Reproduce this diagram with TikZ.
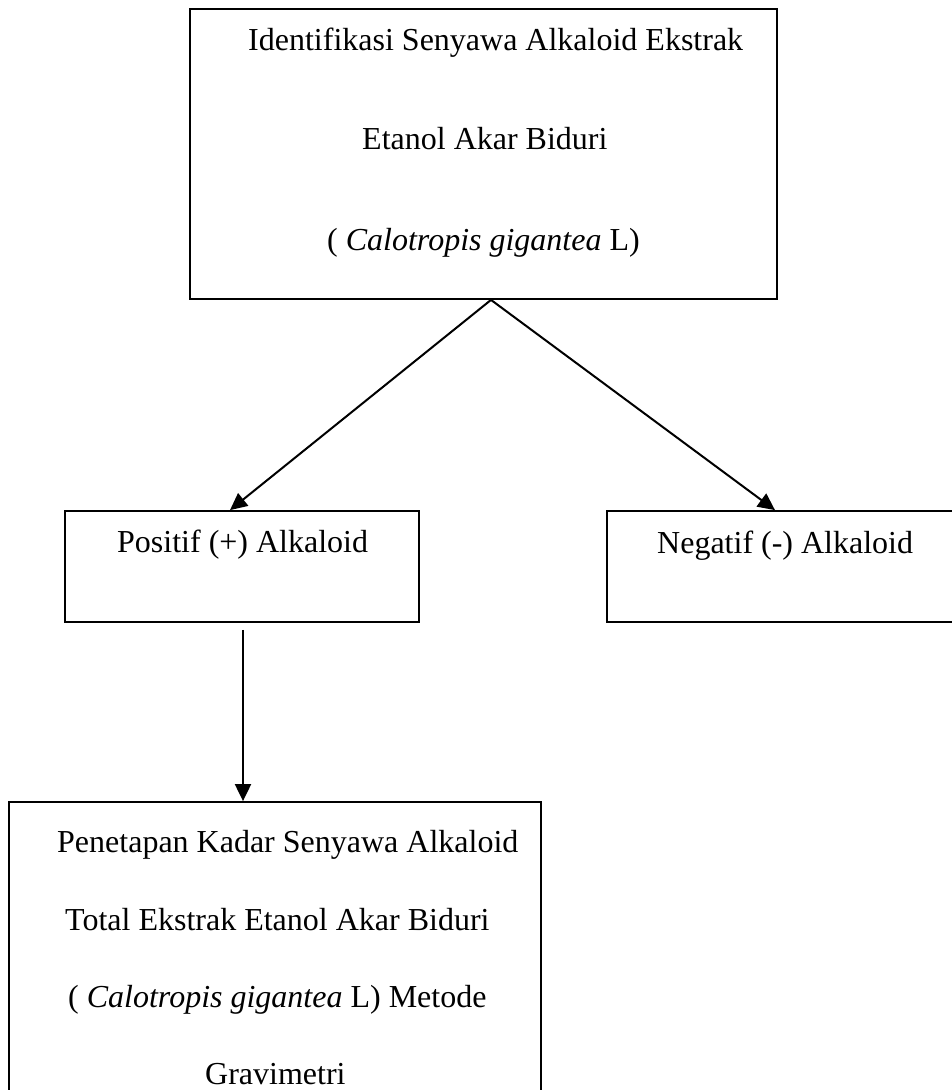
\documentclass[tikz,border=0pt]{standalone}
\usepackage{fontspec}
\setmainfont{Liberation Serif}
\usetikzlibrary{arrows.meta,calc}
\begin{document}
\begin{tikzpicture}[x=1pt,y=-1pt,
  box/.style={draw,line width=1.8pt,rectangle,inner sep=0pt},
  txt/.style={anchor=base west,inner sep=0pt,font=\fontsize{32}{38}\selectfont},
  flow/.style={line width=2pt,-{Triangle[length=17pt,width=16pt]}}]
  \useasboundingbox (0,0) rectangle (952,1090);

  % boxes
  \node[box,minimum width=587pt,minimum height=290pt] (top) at (483.5,154) {};
  \node[box,minimum width=354pt,minimum height=111pt] (pos) at (242,566.5) {};
  \node[box,minimum width=353pt,minimum height=111pt] (neg) at (783.5,566.5) {};
  \node[box,minimum width=532pt,minimum height=300pt] (bot) at (275,952) {};

  % texts
  \node[txt] (t1) at (248,50) {Identifikasi Senyawa Alkaloid Ekstrak};
  \node[txt] (t2) at (362,149) {Etanol Akar Biduri};
  \node[txt] (t3) at (327,250) {( \textit{Calotropis gigantea} L)};
  \node[txt] (p1) at (117,552) {Positif (+) Alkaloid};
  \node[txt] (n1) at (657,553) {Negatif (-) Alkaloid};
  \node[txt] (b1) at (57,852) {Penetapan Kadar Senyawa Alkaloid};
  \node[txt] (b2) at (65,930) {Total Ekstrak Etanol Akar Biduri};
  \node[txt] (b3) at (68,1007) {( \textit{Calotropis gigantea} L) Metode};
  \node[txt] (b4) at (205,1084) {Gravimetri};

  % connectors
  \coordinate (apex) at ($(top.south)+(7.5,0)$);
  \coordinate (posin) at ($(pos.north)+(-12,0)$);
  \coordinate (negin) at ($(neg.north)+(-8.5,0)$);
  \coordinate (posout) at ($(pos.south)+(1,7)$);
  \draw[flow] (apex) -- (posin);
  \draw[flow] (apex) -- (negin);
  \draw[flow] (posout) -- (posout |- bot.north);
\end{tikzpicture}
\end{document}
